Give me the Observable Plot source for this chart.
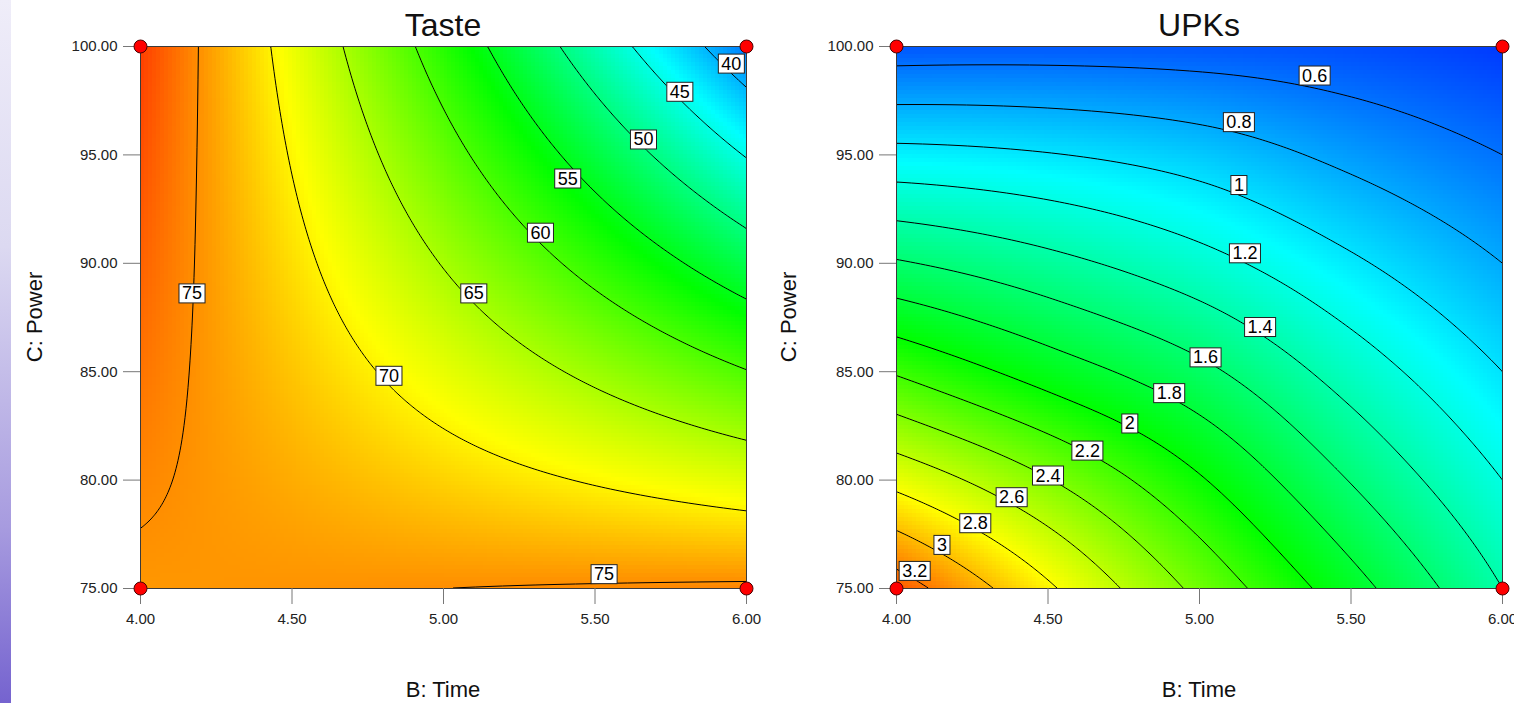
<!DOCTYPE html>
<html>
<head>
<meta charset="utf-8">
<script src="https://cdn.jsdelivr.net/npm/d3@7"></script>
<script src="https://cdn.jsdelivr.net/npm/@observablehq/plot@0.6"></script>
<style>
html, body { margin: 0; padding: 0; background: #fff; overflow: hidden; }
#wrap { position: relative; width: 1514px; height: 703px; overflow: hidden; font-family: "Liberation Sans", Arial, sans-serif; }
#strip { position: absolute; left: 0; top: 0; width: 11px; height: 703px;
  background: linear-gradient(to bottom, #efedf9 0%, #dcd9f1 35%, #a79bdf 75%, #7563cf 100%); }
#overlay { position: absolute; left: 0; top: 0; pointer-events: none; }
</style>
</head>
<body>
<div id="wrap"><div id="strip"></div></div>
<script>
// ---- data ----
const timeB = [4, 4.5, 5, 5.5, 6];            // B: Time grid columns
const powerC = [75, 80, 85, 90, 95, 100];     // C: Power grid rows (bottom to top)

// Taste response on the grid (rows = powerC, cols = timeB)
const tasteGrid = [
  [74.50, 74.75, 75.00, 75.25, 75.50],
  [75.40, 73.51, 71.61, 69.72, 67.82],
  [76.30, 72.26, 68.22, 64.18, 60.14],
  [77.20, 71.02, 64.83, 58.65, 52.46],
  [78.10, 69.77, 61.44, 53.11, 44.78],
  [79.00, 68.53, 58.05, 47.58, 37.10]
];
// UPKs response on the grid (rows = powerC, cols = timeB)
const upkGrid = [
  [3.30, 2.83, 2.35, 1.88, 1.40],
  [2.74, 2.41, 2.02, 1.59, 1.20],
  [2.18, 1.91, 1.65, 1.31, 1.00],
  [1.62, 1.46, 1.27, 1.03, 0.80],
  [1.06, 1.01, 0.91, 0.75, 0.60],
  [0.50, 0.51, 0.50, 0.47, 0.40]
];

const tasteLevels = [40, 45, 50, 55, 60, 65, 70, 75];
const upkLevels = [0.6, 0.8, 1.0, 1.2, 1.4, 1.6, 1.8, 2.0, 2.2, 2.4, 2.6, 2.8, 3.0, 3.2];

const tasteLabelText = ["40", "45", "50", "55", "60", "65", "70", "75", "75"];
const tasteLabelB = [5.95, 5.78, 5.66, 5.41, 5.32, 5.10, 4.82, 4.17, 5.53];
const tasteLabelC = [99.2, 97.9, 95.7, 93.9, 91.4, 88.6, 84.8, 88.6, 75.65];

const upkLabelText = ["0.6", "0.8", "1", "1.2", "1.4", "1.6", "1.8", "2", "2.2", "2.4", "2.6", "2.8", "3", "3.2"];
const upkLabelB = [5.38, 5.13, 5.13, 5.15, 5.20, 5.02, 4.90, 4.77, 4.63, 4.50, 4.38, 4.26, 4.15, 4.06];
const upkLabelC = [98.65, 96.5, 93.6, 90.45, 87.05, 85.65, 84.0, 82.6, 81.35, 80.2, 79.2, 78.0, 77.0, 75.8];

const designB = [4, 4, 6, 6];
const designC = [75, 100, 75, 100];

const xTicks = [4, 4.5, 5, 5.5, 6];
const yTicks = [75, 80, 85, 90, 95, 100];

const colorRange = ["#0000ff", "#00ffff", "#00ff00", "#ffff00", "#ff0000"];
const tasteColorDomain = [31, 43.8, 56.2, 69.4, 82];
const upkColorDomain = [0.2, 1.1, 2.0, 2.8, 3.55];

const FONT = "'Liberation Sans', Arial, sans-serif";

// smooth (Catmull-Rom) sampling of a grid of read values
function sampler(grid) {
  const nx = timeB.length, ny = powerC.length;
  const g = (i, j) => {
    if (i < 0) return 3 * g(0, j) - 3 * g(1, j) + g(2, j);
    if (i > nx - 1) return 3 * g(nx - 1, j) - 3 * g(nx - 2, j) + g(nx - 3, j);
    if (j < 0) return 3 * g(i, 0) - 3 * g(i, 1) + g(i, 2);
    if (j > ny - 1) return 3 * g(i, ny - 1) - 3 * g(i, ny - 2) + g(i, ny - 3);
    return grid[j][i];
  };
  const cr = (p0, p1, p2, p3, t) =>
    0.5 * (2 * p1 + (-p0 + p2) * t + (2 * p0 - 5 * p1 + 4 * p2 - p3) * t * t + (-p0 + 3 * p1 - 3 * p2 + p3) * t * t * t);
  return (x, y) => {
    const fx = (x - timeB[0]) / (timeB[1] - timeB[0]);
    const fy = (y - powerC[0]) / (powerC[1] - powerC[0]);
    const i = Math.min(nx - 2, Math.max(0, Math.floor(fx)));
    const j = Math.min(ny - 2, Math.max(0, Math.floor(fy)));
    const tx = fx - i, ty = fy - j;
    const col = [];
    for (let k = -1; k <= 2; k++) col.push(cr(g(i - 1, j + k), g(i, j + k), g(i + 1, j + k), g(i + 2, j + k), tx));
    return cr(col[0], col[1], col[2], col[3], ty);
  };
}

const wrap = document.getElementById("wrap");
const svgNS = "http://www.w3.org/2000/svg";
const fmt = d3.format(".2f");

function panel(o) {
  const f = sampler(o.grid);
  const labels = o.labelText.map((t, i) => ({b: o.labelB[i], c: o.labelC[i], t}));
  const design = designB.map((b, i) => ({b, c: designC[i]}));
  const svg = Plot.plot({
    width: 757, height: 703,
    marginLeft: 140, marginRight: 11, marginTop: 46, marginBottom: 115,
    style: {background: "transparent", fontFamily: FONT, fontSize: "15px", color: "#222", overflow: "visible"},
    x: {domain: [4, 6]},
    y: {domain: [75, 100]},
    color: {type: "linear", domain: o.colorDomain, range: colorRange, interpolate: "rgb", clamp: true},
    marks: [
      Plot.raster({fill: f, x1: 4, x2: 6, y1: 75, y2: 100, pixelSize: 4, imageRendering: "pixelated"}),
      Plot.contour({value: f, x1: 4, x2: 6, y1: 75, y2: 100, thresholds: o.levels, stroke: "#000", strokeWidth: 1, fill: "none", pixelSize: 1}),
      Plot.frame({stroke: "#3a3a3a", strokeWidth: 1}),
      Plot.axisX({ticks: xTicks, tickFormat: fmt, tickSize: 16, tickPadding: 9, stroke: "#777", fill: "#222", label: null, fontSize: 15}),
      Plot.axisY({ticks: yTicks, tickFormat: fmt, tickSize: 17, tickPadding: 6, stroke: "#777", fill: "#222", label: null, fontSize: 15}),
      Plot.text(labels, {x: "b", y: "c", text: "t", fontSize: 18, fill: "#000", className: "clab"}),
      Plot.dot(design, {x: "b", y: "c", r: 6.5, fill: "#ff0000", stroke: "#4a0000", strokeWidth: 1, clip: false})
    ]
  });
  svg.style.position = "absolute";
  svg.style.left = o.left + "px";
  svg.style.top = "0px";
  wrap.appendChild(svg);
  svg.querySelectorAll(".clab text").forEach((t) => {
    const b = t.getBBox();
    const r = document.createElementNS(svgNS, "rect");
    r.setAttribute("x", b.x - 3);
    r.setAttribute("y", b.y + 0.5);
    r.setAttribute("width", b.width + 6);
    r.setAttribute("height", b.height - 1);
    r.setAttribute("fill", "#fff");
    r.setAttribute("stroke", "#222");
    r.setAttribute("stroke-width", "1");
    const tr = t.getAttribute("transform");
    if (tr) r.setAttribute("transform", tr);
    t.parentNode.insertBefore(r, t);
  });
}

panel({grid: tasteGrid, levels: tasteLevels, labelText: tasteLabelText, labelB: tasteLabelB, labelC: tasteLabelC, colorDomain: tasteColorDomain, left: 0});
panel({grid: upkGrid, levels: upkLevels, labelText: upkLabelText, labelB: upkLabelB, labelC: upkLabelC, colorDomain: upkColorDomain, left: 756});

// titles and axis names
const ov = document.createElementNS(svgNS, "svg");
ov.setAttribute("id", "overlay");
ov.setAttribute("width", 1514);
ov.setAttribute("height", 703);
function addText(str, x, y, size, rot) {
  const t = document.createElementNS(svgNS, "text");
  t.textContent = str;
  t.setAttribute("text-anchor", "middle");
  t.setAttribute("font-family", FONT);
  t.setAttribute("font-size", size);
  t.setAttribute("fill", "#111");
  t.setAttribute("transform", `translate(${x},${y})` + (rot ? ` rotate(${rot})` : ""));
  ov.appendChild(t);
}
addText("Taste", 443, 36, 32);
addText("UPKs", 1199, 36, 32);
addText("C: Power", 42, 317, 22, -90);
addText("C: Power", 796, 317, 22, -90);
addText("B: Time", 443, 697, 22);
addText("B: Time", 1199, 697, 22);
wrap.appendChild(ov);
</script>
</body>
</html>
